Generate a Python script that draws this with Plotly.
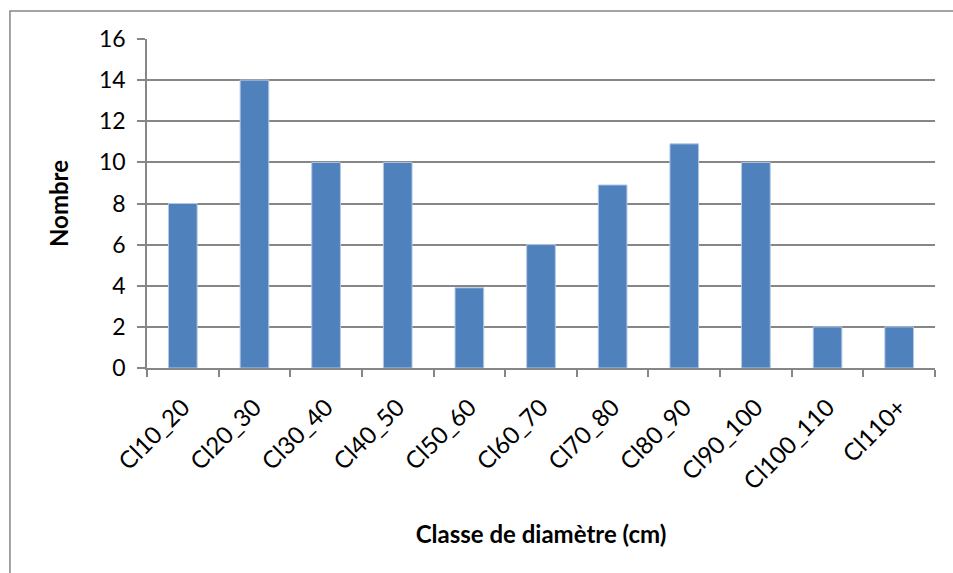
import plotly.graph_objects as go

# Nombre d'arbres par classe de diamètre
classes = ["Cl10_20", "Cl20_30", "Cl30_40", "Cl40_50", "Cl50_60", "Cl60_70",
           "Cl70_80", "Cl80_90", "Cl90_100", "Cl100_110", "Cl110+"]
nombre = [8, 14, 10, 10, 3.9, 6, 8.9, 10.9, 10, 2, 2]
y_ticks = [0, 2, 4, 6, 8, 10, 12, 14, 16]

grey = "#868686"
font_family = "Lato, 'Open Sans', sans-serif"

fig = go.Figure(
    go.Bar(
        x=classes,
        y=nombre,
        marker=dict(color="#4F81BD", line=dict(color="#B3C8E3", width=1)),
        hoverinfo="x+y",
    )
)

fig.update_layout(
    width=953,
    height=573,
    margin=dict(l=147, r=18, t=39, b=205),
    paper_bgcolor="white",
    plot_bgcolor="white",
    bargap=0.6,
    showlegend=False,
    font=dict(family=font_family, color="black"),
    shapes=[
        # cadre du graphique
        dict(type="rect", xref="paper", yref="paper",
             x0=-0.1739, x1=1.2, y0=-1.0, y1=1.085,
             line=dict(color=grey, width=1.5), layer="below"),
    ],
)

fig.update_xaxes(
    type="category",
    tickson="boundaries",
    ticks="outside",
    ticklen=7,
    tickwidth=1.5,
    tickcolor=grey,
    showline=True,
    linecolor=grey,
    linewidth=1.5,
    showgrid=False,
    tickangle=-45,
    tickfont=dict(size=24, family=font_family),
    ticklabelstandoff=14,
    title=dict(text="<b>Classe de diamètre (cm)</b>",
               font=dict(size=24, family=font_family), standoff=32),
)

fig.update_yaxes(
    range=[0, 16],
    tickvals=y_ticks,
    ticks="outside",
    ticklen=8,
    tickwidth=1.5,
    tickcolor=grey,
    showline=True,
    linecolor=grey,
    linewidth=1.5,
    showgrid=True,
    gridcolor=grey,
    gridwidth=1.5,
    zeroline=False,
    tickfont=dict(size=23, family=font_family),
    ticklabelstandoff=7,
    title=dict(text="<b>Nombre</b>",
               font=dict(size=24, family=font_family), standoff=24),
)

fig.write_html("out.html")
